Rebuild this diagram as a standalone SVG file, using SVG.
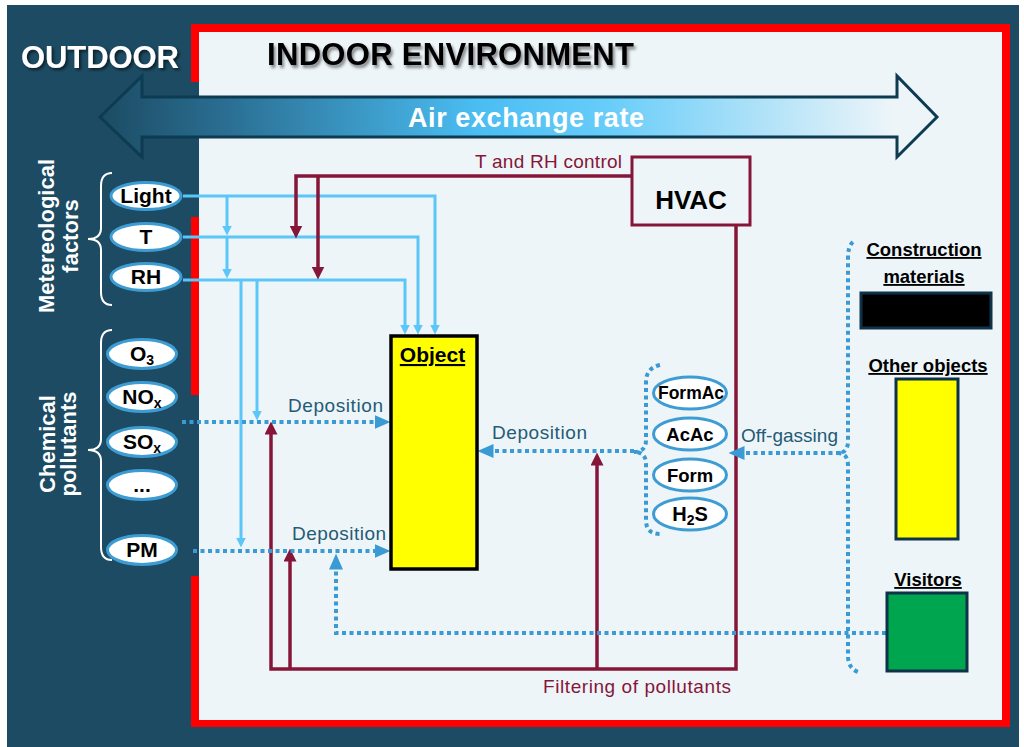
<svg xmlns="http://www.w3.org/2000/svg" width="1024" height="747" viewBox="0 0 1024 747">
<defs>
<linearGradient id="g" x1="100" y1="0" x2="937" y2="0" gradientUnits="userSpaceOnUse">
<stop offset="0" stop-color="#1C4B63"/>
<stop offset="0.15" stop-color="#2A6E92"/>
<stop offset="0.45" stop-color="#4ABDF2"/>
<stop offset="0.6" stop-color="#66CCF9"/>
<stop offset="0.8" stop-color="#B3E3F8"/>
<stop offset="0.95" stop-color="#EEF5F9"/>
</linearGradient>
<filter id="sh" x="-10%" y="-30%" width="120%" height="160%"><feDropShadow dx="2" dy="3" stdDeviation="1.5" flood-color="#000" flood-opacity="0.45"/></filter>
<filter id="shw" x="-10%" y="-30%" width="120%" height="160%"><feDropShadow dx="2" dy="2" stdDeviation="1.5" flood-color="#000" flood-opacity="0.6"/></filter>
<marker id="mb" markerUnits="userSpaceOnUse" markerWidth="10" markerHeight="10" viewBox="0 0 10 10" refX="0.5" refY="5" orient="auto"><path d="M0,0L10,5L0,10z" fill="#5BC6F8"/></marker>
<marker id="mm" markerUnits="userSpaceOnUse" markerWidth="13" markerHeight="13" viewBox="0 0 13 13" refX="0.5" refY="6.5" orient="auto"><path d="M0,0L13,6.5L0,13z" fill="#861638"/></marker>
<marker id="md" markerUnits="userSpaceOnUse" markerWidth="16" markerHeight="14" viewBox="0 0 16 14" refX="0.5" refY="7" orient="auto"><path d="M0,0L16,7L0,14z" fill="#3A9AD4"/></marker>
<style>
.lb{fill:none;stroke:#5BC6F8;stroke-width:3}
.mr{fill:none;stroke:#861638;stroke-width:3.5}
.dt{fill:none;stroke:#3A9AD4;stroke-width:4;stroke-dasharray:4 3.5}
.ov{fill:#fff;stroke:#3D9CD3;stroke-width:3}
.br{fill:none;stroke:#fff;stroke-width:2}
.ot{font-family:"Liberation Sans",Arial,sans-serif;font-weight:bold;font-size:20px;text-anchor:middle;fill:#000}
.lbl{font-family:"Liberation Sans",Arial,sans-serif;font-size:19px;fill:#235B75}
.mt{font-family:"Liberation Sans",Arial,sans-serif;font-size:19px;fill:#861638}
.side{font-family:"Liberation Sans",Arial,sans-serif;font-weight:bold;font-size:22px;fill:#fff;text-anchor:middle}
.rt{font-family:"Liberation Sans",Arial,sans-serif;font-weight:bold;font-size:18.5px;fill:#000;text-anchor:middle;text-decoration:underline}
.box{stroke:#0E3349;stroke-width:3}
</style>
</defs>

<g id="background">
<rect x="7" y="5" width="1012" height="742" fill="#1C4B63"/>
<rect x="199" y="32" width="803" height="688" fill="#EEF5F9"/>
<g fill="#FF0000">
<rect x="191" y="24" width="819" height="8"/>
<rect x="1002" y="24" width="8" height="703"/>
<rect x="191" y="720" width="819" height="7"/>
<rect x="191" y="24" width="8" height="58"/>
<rect x="191" y="217" width="8" height="178"/>
<rect x="191" y="576" width="8" height="151"/>
</g>
</g>

<g id="titles">
<text x="21" y="68" font-family="Liberation Sans, Arial, sans-serif" font-weight="bold" font-size="31" fill="#fff" filter="url(#shw)" textLength="158">OUTDOOR</text>
<text x="267" y="65" font-family="Liberation Sans, Arial, sans-serif" font-weight="bold" font-size="31" fill="#000" filter="url(#sh)" textLength="367">INDOOR ENVIRONMENT</text>
</g>

<g id="air-exchange">
<polygon points="100,117 142,76 142,97 897,97 897,76 937,117 897,157 897,137 142,137 142,157" fill="url(#g)" stroke="#0D3B52" stroke-width="3" stroke-linejoin="miter"/>
<text x="526" y="127" font-family="Liberation Sans, Arial, sans-serif" font-weight="bold" font-size="27" fill="#fff" text-anchor="middle" textLength="236">Air exchange rate</text>
</g>

<g id="group-labels">
<text class="side" transform="translate(54,236) rotate(-90)">Metereological</text>
<text class="side" transform="translate(78,236) rotate(-90)">factors</text>
<text class="side" transform="translate(55,444) rotate(-90)">Chemical</text>
<text class="side" transform="translate(76,444) rotate(-90)">pollutants</text>
<path class="br" d="M112,173Q101,173 101,186L101,228Q101,239 88,239Q101,239 101,250L101,292Q101,305 112,305"/>
<path class="br" d="M112,330Q101,330 101,343L101,439Q101,450 88,450Q101,450 101,461L101,547Q101,560 112,560"/>
</g>

<g id="connectors">
<path class="lb" d="M183,196H435V325" marker-end="url(#mb)"/>
<path class="lb" d="M183,237H418V325" marker-end="url(#mb)"/>
<path class="lb" d="M183,280H405V325" marker-end="url(#mb)"/>
<path class="lb" d="M227,196V226" marker-end="url(#mb)"/>
<path class="lb" d="M227,237V269" marker-end="url(#mb)"/>
<path class="lb" d="M257,280V411" marker-end="url(#mb)"/>
<path class="lb" d="M241,280V538" marker-end="url(#mb)"/>

<path class="mr" d="M632,176H296V226" marker-end="url(#mm)"/>
<path class="mr" d="M318,176V267" marker-end="url(#mm)"/>
<path class="mr" d="M736,225V669H271V434" marker-end="url(#mm)"/>
<path class="mr" d="M290,669V561" marker-end="url(#mm)"/>
<path class="mr" d="M597,669V465" marker-end="url(#mm)"/>

<path class="dt" d="M182,422H375" marker-end="url(#md)"/>
<path class="dt" d="M193,551H375" marker-end="url(#md)"/>
<path class="dt" d="M634,451H493" marker-end="url(#md)"/>
<path class="dt" d="M840,453H744" marker-end="url(#md)"/>
<path class="dt" d="M886,633H336V569" marker-end="url(#md)"/>
<path class="dt" d="M660,365Q646,368 646,382L646,440Q646,452 634,452Q646,452 646,464L646,520Q646,534 660,534"/>
<path class="dt" d="M853,242Q848,246 848,258L848,441Q848,453 838,453Q848,453 848,466L848,656Q848,668 858,672"/>

<text class="mt" x="475" y="168" textLength="147">T and RH control</text>
<text class="mt" x="543" y="693" textLength="188">Filtering of pollutants</text>
<text class="lbl" x="288" y="412" textLength="95">Deposition</text>
<text class="lbl" x="292" y="540" textLength="94">Deposition</text>
<text class="lbl" x="492" y="439" textLength="95">Deposition</text>
<text class="lbl" x="741" y="442" textLength="97">Off-gassing</text>
</g>

<g id="node-light"><ellipse class="ov" cx="146" cy="196" rx="35" ry="13.5"/><text class="ot" x="146" y="203" style="font-size:21px">Light</text></g>
<g id="node-t"><ellipse class="ov" cx="146" cy="237" rx="35" ry="13.5"/><text class="ot" x="146" y="244" style="font-size:21px">T</text></g>
<g id="node-rh"><ellipse class="ov" cx="146" cy="277" rx="35" ry="13.5"/><text class="ot" x="146" y="284" style="font-size:21px">RH</text></g>

<g id="node-o3"><ellipse class="ov" cx="142" cy="354" rx="34.5" ry="14.5"/><text class="ot" x="142" y="361" style="font-size:21px">O<tspan style="font-size:14px" dy="4">3</tspan></text></g>
<g id="node-nox"><ellipse class="ov" cx="142" cy="397" rx="34.5" ry="14.5"/><text class="ot" x="142" y="404" style="font-size:21px">NO<tspan style="font-size:14px" dy="4">x</tspan></text></g>
<g id="node-sox"><ellipse class="ov" cx="142" cy="442" rx="34.5" ry="14.5"/><text class="ot" x="142" y="449" style="font-size:21px">SO<tspan style="font-size:14px" dy="4">x</tspan></text></g>
<g id="node-etc"><ellipse class="ov" cx="142" cy="485" rx="34.5" ry="14.5"/><text class="ot" x="142" y="492" style="font-size:21px">...</text></g>
<g id="node-pm"><ellipse class="ov" cx="142" cy="550" rx="34.5" ry="14.5"/><text class="ot" x="142" y="557" style="font-size:21px">PM</text></g>

<g id="node-hvac"><rect x="632" y="157" width="118" height="68" fill="#EEF5F9" stroke="#861638" stroke-width="3"/><text class="ot" x="691" y="209" style="font-size:26px">HVAC</text></g>

<g id="node-object"><rect x="391" y="336" width="86" height="233" fill="#FFFF00" stroke="#000" stroke-width="3.5"/><text class="ot" x="432.5" y="362" style="font-size:21px" text-decoration="underline">Object</text></g>

<g id="node-formac"><ellipse class="ov" cx="690" cy="393" rx="36.5" ry="16"/><text class="ot" x="691" y="399" style="font-size:17.5px" textLength="66">FormAc</text></g>
<g id="node-acac"><ellipse class="ov" cx="690" cy="434" rx="36.5" ry="16"/><text class="ot" x="690" y="441" style="font-size:18.5px">AcAc</text></g>
<g id="node-form"><ellipse class="ov" cx="690" cy="475" rx="36.5" ry="16"/><text class="ot" x="690" y="482" style="font-size:18.5px">Form</text></g>
<g id="node-h2s"><ellipse class="ov" cx="690" cy="514" rx="36.5" ry="16"/><text class="ot" x="690" y="521" style="font-size:20px">H<tspan style="font-size:14px" dy="4">2</tspan><tspan dy="-4">S</tspan></text></g>

<g id="node-construction"><text class="rt" x="924" y="256">Construction</text><text class="rt" x="924" y="283">materials</text><rect class="box" x="861" y="293" width="130" height="35" fill="#000"/></g>
<g id="node-other"><text class="rt" x="928" y="372">Other objects</text><rect class="box" x="896" y="379" width="62" height="160" fill="#FFFF00"/></g>
<g id="node-visitors"><text class="rt" x="928" y="586">Visitors</text><rect class="box" x="887" y="593" width="80" height="78" fill="#00A550"/></g>
</svg>
